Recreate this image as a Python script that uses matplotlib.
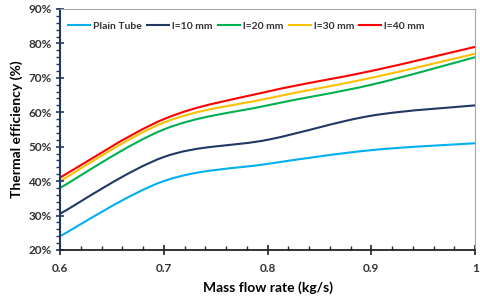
import matplotlib
matplotlib.use("Agg")
import matplotlib.pyplot as plt
from matplotlib.path import Path
from matplotlib.patches import PathPatch
from matplotlib.lines import Line2D
from matplotlib.ticker import MultipleLocator, FuncFormatter

plt.rcParams['font.family'] = ['Lato', 'DejaVu Sans']

mass_flow = [0.6, 0.7, 0.8, 0.9, 1.0]
plain_tube = [24, 40, 45, 49, 51]
l10 = [30.5, 47, 52, 59, 62]
l20 = [38, 55, 62, 68, 76]
l30 = [40, 57, 64, 70, 77]
l40 = [41, 58, 66, 72, 79]

series_names = ["Plain Tube", "l=10 mm", "l=20 mm", "l=30 mm", "l=40 mm"]
series_values = [plain_tube, l10, l20, l30, l40]
colors = ["#00B0F0", "#203864", "#00B050", "#FFC000", "#FF0000"]

fig = plt.figure(figsize=(4.8, 2.99), dpi=100)
ax = fig.add_axes([0.125, 0.164, 0.865, 0.806])


def smooth_path(x, y):
    # Excel-like smoothed line: cubic Bezier with Catmull-Rom control points
    n = len(x)
    verts = [(x[0], y[0])]
    codes = [Path.MOVETO]
    for i in range(n - 1):
        x0, y0 = (x[i - 1], y[i - 1]) if i > 0 else (x[i], y[i])
        x1, y1 = x[i], y[i]
        x2, y2 = x[i + 1], y[i + 1]
        x3, y3 = (x[i + 2], y[i + 2]) if i + 2 < n else (x2, y2)
        c1 = (x1 + (x2 - x0) / 6.0, y1 + (y2 - y0) / 6.0)
        c2 = (x2 - (x3 - x1) / 6.0, y2 - (y3 - y1) / 6.0)
        verts += [c1, c2, (x2, y2)]
        codes += [Path.CURVE4] * 3
    return Path(verts, codes)


handles = []
for name, vals, c in zip(series_names, series_values, colors):
    patch = PathPatch(smooth_path(mass_flow, vals), facecolor='none',
                      edgecolor=c, lw=1.5, clip_on=True)
    ax.add_patch(patch)
    handles.append(Line2D([], [], color=c, lw=1.5, label=name))

ax.set_xlim(0.6, 1.0)
ax.set_ylim(20, 90)
ax.xaxis.set_major_locator(MultipleLocator(0.1))
ax.xaxis.set_minor_locator(MultipleLocator(0.02))
ax.yaxis.set_major_locator(MultipleLocator(10))
ax.yaxis.set_minor_locator(MultipleLocator(2))
ax.yaxis.set_major_formatter(FuncFormatter(lambda v, p: f"{v:.0f}%"))
ax.xaxis.set_major_formatter(FuncFormatter(lambda v, p: "1" if abs(v - 1) < 1e-9 else f"{v:.1f}"))

navy = "#203864"
ax.spines['left'].set_color(navy)
ax.spines['left'].set_linewidth(1.5)
ax.spines['bottom'].set_color("#222222")
ax.spines['bottom'].set_linewidth(1.3)
ax.spines['top'].set_color("#A6A6A6")
ax.spines['right'].set_color("#A6A6A6")
ax.spines['top'].set_linewidth(0.8)
ax.spines['right'].set_linewidth(0.8)

ax.tick_params(axis='y', which='major', direction='inout', length=6, width=1.2, color=navy,
               labelsize=8.5, pad=3)
ax.tick_params(axis='y', which='minor', direction='out', length=3, width=1.0, color=navy)
ax.tick_params(axis='x', which='major', direction='inout', length=7, width=1.2, color="#222222",
               labelsize=8.5, pad=6)
ax.tick_params(axis='x', which='minor', direction='in', length=3, width=1.0, color="#222222")
for lab in ax.get_xticklabels() + ax.get_yticklabels():
    lab.set_fontweight('bold')
    lab.set_color("#333333")

ax.set_xlabel("Mass flow rate (kg/s)", fontsize=10, fontweight='bold', labelpad=5)
ax.set_ylabel("Thermal efficiency (%)", fontsize=10, fontweight='bold', labelpad=4)

leg = ax.legend(handles=handles, loc='upper left', bbox_to_anchor=(0.01, 0.965), ncol=5,
                frameon=False, fontsize=7.5, handlelength=2.1, handletextpad=0.3,
                columnspacing=0.5, borderaxespad=0)
for t in leg.get_texts():
    t.set_fontweight('bold')
    t.set_color("#333333")

fig.savefig("out.png", dpi=100)
